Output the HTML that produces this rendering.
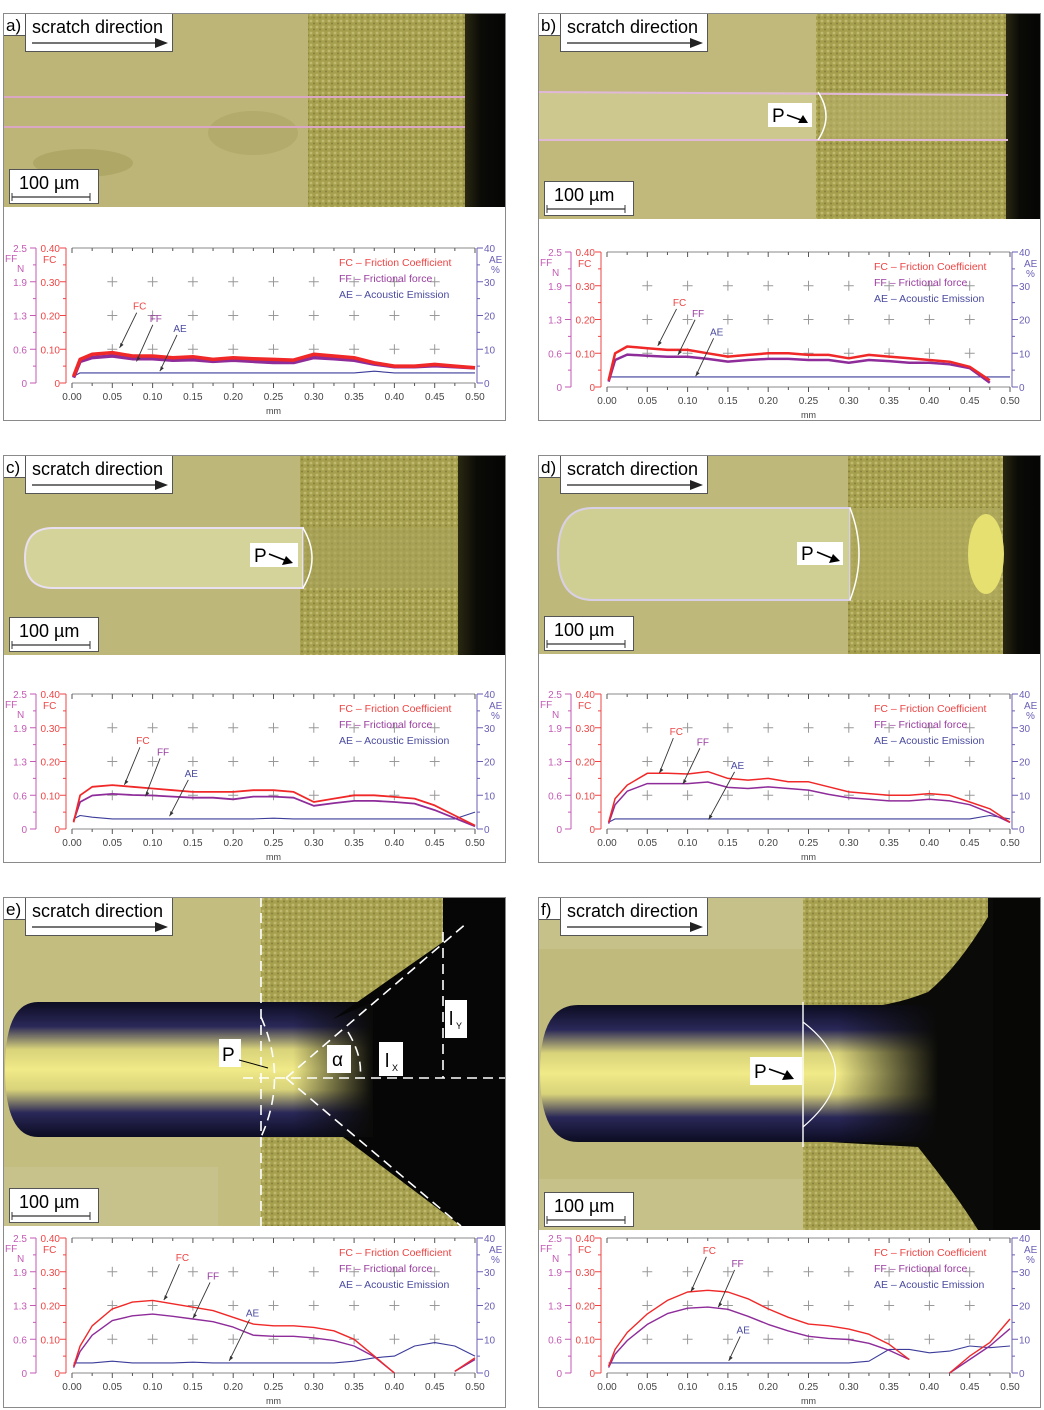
<!DOCTYPE html>
<html><head><meta charset="utf-8">
<style>
html,body{margin:0;padding:0;background:#fff;}
body{width:1044px;height:1410px;position:relative;overflow:hidden;font-family:"Liberation Sans",sans-serif;}
.panel{position:absolute;border:1px solid #8a8a8a;box-sizing:border-box;background:#fff;}
svg text{font-family:"Liberation Sans",sans-serif;}
</style></head>
<body>
<svg width="0" height="0" style="position:absolute">
<defs>
<pattern id="tex" width="6" height="6" patternUnits="userSpaceOnUse">
<rect width="6" height="6" fill="#a6a04e"/>
<circle cx="2" cy="2" r="1.4" fill="#d0cc86" opacity="0.6"/>
<circle cx="5" cy="4.5" r="1" fill="#6a6630" opacity="0.55"/>
</pattern>
<linearGradient id="blk" x1="0" x2="1" y1="0" y2="0"><stop offset="0" stop-color="#2a2812"/><stop offset="0.4" stop-color="#0a0a06"/><stop offset="1" stop-color="#050505"/></linearGradient>
<linearGradient id="band" x1="0" x2="0" y1="0" y2="1"><stop offset="0" stop-color="#0c0c22"/><stop offset="0.18" stop-color="#2a2858"/><stop offset="0.35" stop-color="#d8d27a"/><stop offset="0.5" stop-color="#f0ea88"/><stop offset="0.65" stop-color="#d8d27a"/><stop offset="0.82" stop-color="#2a2858"/><stop offset="1" stop-color="#0c0c22"/></linearGradient>
<linearGradient id="fade" x1="0" x2="1" y1="0" y2="0"><stop offset="0" stop-color="#0a0a08" stop-opacity="0"/><stop offset="1" stop-color="#0a0a08" stop-opacity="1"/></linearGradient>
</defs>
</svg>
<div id="root"></div>
<script>
// shared x positions (mm)
const xs = [0.002,0.01,0.025,0.05,0.075,0.1,0.125,0.15,0.175,0.2,0.225,0.25,0.275,0.3,0.325,0.35,0.375,0.4,0.425,0.45,0.475,0.5];
const xTicks = ["0.00","0.05","0.10","0.15","0.20","0.25","0.30","0.35","0.40","0.45","0.50"];
const fcTicks = ["0","0.10","0.20","0.30","0.40"];
const ffTicks = ["0","0.6","1.3","1.9","2.5"];
const aeTicks = ["0","10","20","30","40"];

const fcA = [0.02,0.07,0.085,0.09,0.08,0.08,0.075,0.078,0.07,0.075,0.072,0.07,0.068,0.085,0.08,0.075,0.06,0.05,0.05,0.055,0.05,0.045];
const ffA = [0.1,0.4,0.47,0.5,0.45,0.45,0.42,0.43,0.4,0.42,0.4,0.38,0.38,0.47,0.45,0.42,0.35,0.3,0.3,0.32,0.3,0.28];
const aeA = [2,3,3,3,3,3,3,3,3,3,3,3,3,3,3,3,3.5,3,3,3,3,3];

const fcB = [0.02,0.1,0.12,0.115,0.11,0.11,0.1,0.09,0.095,0.1,0.1,0.095,0.095,0.085,0.095,0.09,0.085,0.08,0.075,0.06,0.02,null];
const ffB = [0.1,0.5,0.6,0.58,0.56,0.56,0.52,0.47,0.5,0.52,0.52,0.5,0.5,0.45,0.5,0.48,0.45,0.45,0.42,0.35,0.08,null];
const aeB = [3,3,3,3,3,3,3,3,3,3,3,3,3,3,3,3,3,3,3,3,3,3];

const fcC = [0.02,0.1,0.125,0.13,0.125,0.12,0.115,0.11,0.11,0.11,0.115,0.115,0.11,0.08,0.09,0.1,0.1,0.095,0.09,0.07,0.04,0.01];
const ffC = [0.15,0.5,0.62,0.65,0.63,0.62,0.6,0.58,0.58,0.55,0.6,0.6,0.58,0.43,0.48,0.52,0.52,0.5,0.47,0.35,0.2,0.05];
const aeC = [3,4,3.5,3,3,3,3,3,3,3,3,3.2,3,3,3,3,3,3,3,3,3,5];

const fcD = [0.02,0.09,0.13,0.165,0.165,0.163,0.17,0.15,0.145,0.15,0.14,0.14,0.125,0.11,0.105,0.1,0.1,0.105,0.1,0.08,0.06,0.02];
const ffD = [0.1,0.45,0.7,0.84,0.84,0.84,0.87,0.77,0.75,0.78,0.75,0.72,0.64,0.58,0.55,0.52,0.52,0.55,0.52,0.45,0.3,0.12];
const aeD = [2,3,3,3,3,3,3,3,3,3,3,3,3,3,3,3,3,3,3,3,4,3];

const fcE = [0.02,0.08,0.14,0.19,0.21,0.215,0.205,0.195,0.185,0.165,0.145,0.14,0.14,0.135,0.125,0.1,0.05,0.0,null,null,0.005,0.045];
const ffE = [0.1,0.4,0.7,0.97,1.06,1.09,1.05,1.0,0.95,0.85,0.7,0.68,0.68,0.65,0.6,0.5,0.3,0.0,null,null,0.03,0.25];
const aeE = [3,3,3,3.5,3,3,3,3.2,3,3,3,3,3,3,3,3.5,4.5,5,8,9,8,5];

const fcF = [0.02,0.07,0.12,0.175,0.215,0.24,0.245,0.24,0.22,0.19,0.165,0.145,0.14,0.13,0.115,0.085,0.04,null,0.0,0.05,0.09,0.16];
const ffF = [0.1,0.35,0.6,0.9,1.1,1.2,1.22,1.18,1.05,0.9,0.78,0.68,0.64,0.62,0.55,0.42,0.25,null,0.0,0.25,0.5,0.82];
const aeF = [3,3,3,3,3,3,3,3,3,3,3,3,3,3,3.5,7,7,6,6.5,8,7.5,8];

const panels = [
 {id:'a',left:3,top:13,h:408,imgH:194,zero:370,fc:fcA,ff:ffA,ae:aeA,w:3.5,
  ann:[["FC",0.084,0.229,0.059,0.104],["FF",0.104,0.193,0.08,0.064],["AE",0.134,0.163,0.109,0.035]]},
 {id:'b',left:538,top:13,h:408,imgH:206,zero:374,fc:fcB,ff:ffB,ae:aeB,w:2.5,
  ann:[["FC",0.09,0.252,0.063,0.122],["FF",0.113,0.22,0.088,0.095],["AE",0.136,0.165,0.11,0.032]]},
 {id:'c',left:3,top:455,h:408,imgH:200,zero:374,fc:fcC,ff:ffC,ae:aeC,w:1.8,
  ann:[["FC",0.088,0.263,0.065,0.131],["FF",0.113,0.23,0.091,0.097],["AE",0.148,0.166,0.121,0.038]]},
 {id:'d',left:538,top:455,h:408,imgH:199,zero:374,fc:fcD,ff:ffD,ae:aeD,w:1.5,
  ann:[["FC",0.086,0.29,0.065,0.166],["FF",0.119,0.26,0.094,0.133],["AE",0.162,0.19,0.126,0.028]]},
 {id:'e',left:3,top:897,h:511,imgH:329,zero:476,fc:fcE,ff:ffE,ae:aeE,w:1.4,
  ann:[["FC",0.137,0.343,0.114,0.216],["FF",0.175,0.289,0.15,0.162],["AE",0.224,0.179,0.195,0.036]]},
 {id:'f',left:538,top:897,h:511,imgH:333,zero:476,fc:fcF,ff:ffF,ae:aeF,w:1.4,
  ann:[["FC",0.127,0.365,0.104,0.241],["FF",0.162,0.326,0.138,0.195],["AE",0.169,0.129,0.151,0.036]]}
];

const NS='http://www.w3.org/2000/svg';
function mk(tag, attrs, parent){const e=document.createElementNS(NS,tag);for(const k in attrs)e.setAttribute(k,attrs[k]);if(parent)parent.appendChild(e);return e;}
function txt(parent,x,y,s,attrs){const t=mk('text',Object.assign({x:x,y:y},attrs),parent);t.textContent=s;return t;}

function imageMarkup(id,H){
 let s='';
 const W=503;
 if(id==='a'){
  s+=`<rect width="${W}" height="${H}" fill="#bcb577"/><rect x="305" width="160" height="${H}" fill="url(#tex)"/><rect x="462" width="41" height="${H}" fill="url(#blk)"/>`;
  s+=`<ellipse cx="80" cy="150" rx="50" ry="14" fill="#a59e5c" opacity="0.6"/><ellipse cx="250" cy="120" rx="45" ry="22" fill="#a9a262" opacity="0.5"/>`;
  s+=`<line x1="0" y1="84" x2="462" y2="84" stroke="#d9a6c4" stroke-width="2"/><line x1="0" y1="114" x2="462" y2="114" stroke="#d9a6c4" stroke-width="2"/>`;
 } else if(id==='b'){
  s+=`<rect width="${W}" height="${H}" fill="#c0b97b"/><rect x="0" y="79" width="282" height="48" fill="#cdc98e"/><rect x="278" width="190" height="${H}" fill="url(#tex)"/><rect x="282" y="79" width="186" height="48" fill="#b7b06a" opacity="0.6"/><rect x="468" width="35" height="${H}" fill="url(#blk)"/>`;
  s+=`<line x1="0" y1="79" x2="470" y2="82" stroke="#e0b8d8" stroke-width="2"/><line x1="0" y1="127" x2="470" y2="127" stroke="#e0b8d8" stroke-width="2"/>`;
  s+=`<path d="M280 79 Q296 103 280 127" stroke="#fff" fill="none" stroke-width="1.5"/>`;
  s+=`<rect x="230" y="90" width="44" height="24" fill="#fff"/><text x="234" y="109" font-size="19">P</text><line x1="249" y1="102" x2="266" y2="108" stroke="#000" stroke-width="1.5"/><polygon points="270,110 260,110 265,102" fill="#000"/>`;
 } else if(id==='c'){
  s+=`<rect width="${W}" height="${H}" fill="#beb77a"/><rect x="297" width="160" height="${H}" fill="url(#tex)"/><rect x="455" width="48" height="${H}" fill="url(#blk)"/>`;
  s+=`<path d="M300 73 L50 73 Q22 73 22 103 Q22 133 50 133 L300 133 Z" fill="#d4d399" stroke="#e8dff0" stroke-width="2"/>`;
  s+=`<rect x="300" y="73" width="155" height="60" fill="#a8a25a" opacity="0.6"/>`;
  s+=`<path d="M300 73 Q318 103 300 133" stroke="#fff" fill="none" stroke-width="1.5"/>`;
  s+=`<rect x="247" y="88" width="48" height="24" fill="#fff"/><text x="251" y="107" font-size="19">P</text><line x1="266" y1="99" x2="284" y2="106" stroke="#000" stroke-width="1.5"/><polygon points="290,108 279,110 283,101" fill="#000"/>`;
 } else if(id==='d'){
  s+=`<rect width="${W}" height="${H}" fill="#bfb87b"/><rect x="310" width="155" height="${H}" fill="url(#tex)"/><rect x="465" width="38" height="${H}" fill="url(#blk)"/>`;
  s+=`<path d="M312 53 L55 53 Q20 53 20 99 Q20 145 55 145 L312 145 Z" fill="#d0cf93" stroke="#d8d0e6" stroke-width="2"/>`;
  s+=`<rect x="312" y="53" width="150" height="92" fill="#b0aa5e" opacity="0.7"/><ellipse cx="448" cy="99" rx="18" ry="40" fill="#e6e070"/>`;
  s+=`<path d="M312 53 Q330 99 312 145" stroke="#fff" fill="none" stroke-width="1.5"/>`;
  s+=`<rect x="259" y="87" width="46" height="23" fill="#fff"/><text x="263" y="105" font-size="19">P</text><line x1="279" y1="97" x2="296" y2="104" stroke="#000" stroke-width="1.5"/><polygon points="302,106 291,108 295,99" fill="#000"/>`;
 } else if(id==='e'){
  s+=`<rect width="${W}" height="${H}" fill="#c3bd80"/><rect x="258" width="245" height="${H}" fill="url(#tex)"/>`;
  s+=`<rect x="0" y="270" width="215" height="59" fill="#c7c28c"/>`;
  s+=`<path d="M370 105 L35 105 Q2 105 2 172 Q2 240 35 240 L370 240 Z" fill="url(#band)"/>`;
  s+=`<rect x="290" y="105" width="80" height="135" fill="url(#fade)"/>`;
  s+=`<polygon points="330,122 440,45 440,0 503,0 503,${H} 458,${H} 340,240 370,240 370,105" fill="#060606"/>`;
  s+=`<g stroke="#fff" stroke-width="1.6" stroke-dasharray="10,6" fill="none"><line x1="258" y1="0" x2="258" y2="${H}"/><line x1="240" y1="181" x2="503" y2="181"/><line x1="283" y1="181" x2="465" y2="25"/><line x1="283" y1="181" x2="458" y2="${H}"/><line x1="440" y1="35" x2="440" y2="181"/><path d="M258 120 Q285 181 258 240"/><path d="M345 135 Q360 160 357 181"/></g>`;
  s+=`<rect x="216" y="142" width="22" height="28" fill="#fff"/><text x="219" y="164" font-size="19">P</text><line x1="236" y1="163" x2="265" y2="171" stroke="#000" stroke-width="1"/>`;
  s+=`<rect x="324" y="148" width="24" height="28" fill="#fff"/><text x="329" y="169" font-size="19" font-family="Liberation Serif">α</text>`;
  s+=`<rect x="376" y="145" width="24" height="34" fill="#fff"/><text x="382" y="170" font-size="19">l</text><text x="389" y="174" font-size="9">X</text>`;
  s+=`<rect x="442" y="103" width="22" height="38" fill="#fff"/><text x="446" y="128" font-size="19">l</text><text x="453" y="132" font-size="9">Y</text>`;
 } else if(id==='f'){
  s+=`<rect width="${W}" height="${H}" fill="#c6c189"/><rect x="265" width="200" height="${H}" fill="url(#tex)"/>`;
  s+=`<rect x="0" y="52" width="265" height="230" fill="#c0ba7c"/>`;
  s+=`<path d="M290 110 Q340 115 390 95 Q420 70 450 20 L450 0 L503 0 L503 ${H} L440 ${H} Q420 300 380 250 L290 245 Z" fill="#0a0a08"/>`;
  s+=`<path d="M400 108 L40 108 Q2 108 2 175 Q2 245 40 245 L400 245 Z" fill="url(#band)"/>`;
  s+=`<rect x="300" y="108" width="100" height="137" fill="url(#fade)"/>`;
  s+=`<rect x="455" width="48" height="${H}" fill="#070706"/>`;
  s+=`<line x1="265" y1="105" x2="265" y2="250" stroke="#fff" stroke-width="1.4"/><path d="M265 125 Q330 175 265 230" stroke="#fff" stroke-width="1.2" fill="none"/>`;
  s+=`<rect x="212" y="160" width="52" height="28" fill="#fff"/><text x="216" y="181" font-size="19">P</text><line x1="231" y1="172" x2="248" y2="178" stroke="#000" stroke-width="1.5"/><polygon points="256,182 244,183 249,173" fill="#000"/>`;
 }
 return s;
}

const root=document.getElementById('root');
const XL=69, XR=472, CH=135;
panels.forEach(p=>{
 const div=document.createElement('div');
 div.className='panel';
 
 
 div.style.left=p.left+'px';div.style.top=p.top+'px';div.style.width='503px';div.style.height=p.h+'px';
 root.appendChild(div);
 const svg=mk('svg',{width:501,height:p.h-2,viewBox:`1 1 501 ${p.h-2}`,style:'position:absolute;left:0;top:0'},div);
 
 
 const img=mk('g',{},svg);
 
 
 img.innerHTML=imageMarkup(p.id,p.imgH);
 const hb=mk('g',{},svg);
 
 
 mk('rect',{x:0.5,y:0.5,width:22,height:22,fill:'#fff',stroke:'#555'},hb);
 txt(hb,3,18,p.id+')',{'font-size':17});
 mk('rect',{x:22.5,y:0.5,width:147,height:38,fill:'#fff',stroke:'#555'},hb);
 txt(hb,29,20,'scratch direction',{'font-size':18});
 mk('line',{x1:29,y1:30,x2:155,y2:30,stroke:'#222','stroke-width':1.3},hb);
 mk('polygon',{points:'165,30 152,25 152,35',fill:'#222'},hb);
 const sb=mk('g',{},svg);
 
 
 const sy=p.imgH-38;
 mk('rect',{x:6.5,y:sy+0.5,width:89,height:34,fill:'#fff',stroke:'#555'},sb);
 txt(sb,16,sy+20,'100 µm',{'font-size':18});
 mk('line',{x1:9,y1:sy+28,x2:87,y2:sy+28,stroke:'#333','stroke-width':1.3},sb);
 mk('line',{x1:9,y1:sy+24,x2:9,y2:sy+32,stroke:'#333'},sb);
 mk('line',{x1:87,y1:sy+24,x2:87,y2:sy+32,stroke:'#333'},sb);
 const Z=p.zero;
 const sx=v=>XL+v/0.5*(XR-XL);
 const yFC=v=>Z-v/0.4*CH, yFF=v=>Z-v/2.5*CH, yAE=v=>Z-v/40*CH;
 const ch=mk('g',{},svg);
 
 
 const gray='#8a8a8a';
 mk('line',{x1:XL,y1:Z-CH,x2:XR,y2:Z-CH,stroke:gray},ch);
 mk('line',{x1:XL,y1:Z,x2:XR,y2:Z,stroke:gray},ch);
 for(let i=0;i<=20;i++){const x=sx(i*0.025);const L=i%2?3:5;
  mk('line',{x1:x,y1:Z,x2:x,y2:Z+L,stroke:'#555'},ch);
  mk('line',{x1:x,y1:Z-CH,x2:x,y2:Z-CH+L,stroke:'#555'},ch);}
 xTicks.forEach((t,i)=>{const l=txt(ch,sx(i*0.05),Z+17,t,{'font-size':10,'text-anchor':'middle',fill:'#444'});
  });
 const xt=txt(ch,sx(0.25),Z+31,'mm',{'font-size':9,'text-anchor':'middle',fill:'#444'});
 
 for(let i=1;i<=9;i++)for(let j=1;j<=3;j++){const cx=sx(i*0.05),cy=yFC(j*0.1);
  mk('path',{d:`M${cx-5} ${cy}H${cx+5}M${cx} ${cy-5}V${cy+5}`,stroke:'#999','stroke-width':1},ch);}
 const ffc='#c45ab4', fcc='#ee4444', aec='#6a5fb5';
 mk('line',{x1:33,y1:Z-CH,x2:33,y2:Z,stroke:ffc},ch);
 mk('line',{x1:63,y1:Z-CH,x2:63,y2:Z,stroke:fcc},ch);
 mk('line',{x1:474,y1:Z-CH,x2:474,y2:Z,stroke:aec},ch);
 for(let i=0;i<=8;i++){const y=Z-i*CH/8;const L=i%2?3:6;
  mk('line',{x1:33-L,y1:y,x2:33,y2:y,stroke:ffc},ch);
  mk('line',{x1:63-L,y1:y,x2:63,y2:y,stroke:fcc},ch);
  mk('line',{x1:474,y1:y,x2:474+L,y2:y,stroke:aec},ch);}
 ffTicks.forEach((t,i)=>{const l=txt(ch,24,yFC(i*0.1)+4,t,{'font-size':10,'text-anchor':'end',fill:ffc});});
 fcTicks.forEach((t,i)=>{const l=txt(ch,57,yFC(i*0.1)+4,t,{'font-size':10,'text-anchor':'end',fill:fcc});});
 aeTicks.forEach((t,i)=>{const l=txt(ch,481,yFC(i*0.1)+4,t,{'font-size':10,fill:aec});});
 txt(ch,2,Z-CH+14,'FF',{'font-size':10,fill:ffc});
 txt(ch,14,Z-CH+24,'N',{'font-size':10,fill:ffc});
 txt(ch,40,Z-CH+15,'FC',{'font-size':10,fill:fcc});
 txt(ch,486,Z-CH+15,'AE',{'font-size':10,fill:aec});
 txt(ch,488,Z-CH+25,'%',{'font-size':10,fill:aec});
 function line(vals,yf,col,w,name){
  let d='',pen=false;
  vals.forEach((v,i)=>{if(v===null){pen=false;return;}d+=(pen?'L':'M')+sx(xs[i]).toFixed(1)+' '+yf(v).toFixed(1);pen=true;});
  const el=mk('path',{d:d,stroke:col,'stroke-width':w,fill:'none','stroke-linejoin':'round'},ch);
  
  
 }
 line(p.ae,yAE,'#3c3c9a',1.1,'ae-line');
 line(p.ff,yFF,'#8e2c9a',p.w,'ff-line');
 line(p.fc,yFC,'#f02828',p.w,'fc-line');
 const lg=mk('g',{},ch);
 
 
 const ly=Z-CH+18;
 [['FC','Friction Coefficient','#ee4444'],['FF','Frictional force','#9a3da0'],['AE','Acoustic Emission','#4a4aa0']].forEach((e,i)=>{
  const t=txt(lg,336,ly+i*16,e[0]+' – '+e[1],{'font-size':10.5,fill:e[2]});
  });
 const cols={FC:'#ee4444',FF:'#9a3da0',AE:'#4a4aa0'};
 p.ann.forEach(a=>{
  const lx=sx(a[1]),ly2=yFC(a[2]),tx=sx(a[3]),ty=yFC(a[4]);
  const t=txt(ch,lx,ly2+4,a[0],{'font-size':10,'text-anchor':'middle',fill:cols[a[0]]});
  
  mk('line',{x1:lx-3,y1:ly2+7,x2:tx,y2:ty,stroke:'#333','stroke-width':0.9},ch);
  mk('polygon',{points:`${tx},${ty} ${tx+1},${ty-5} ${tx+4},${ty-3}`,fill:'#333'},ch);
 });
});
</script>
</body></html>
